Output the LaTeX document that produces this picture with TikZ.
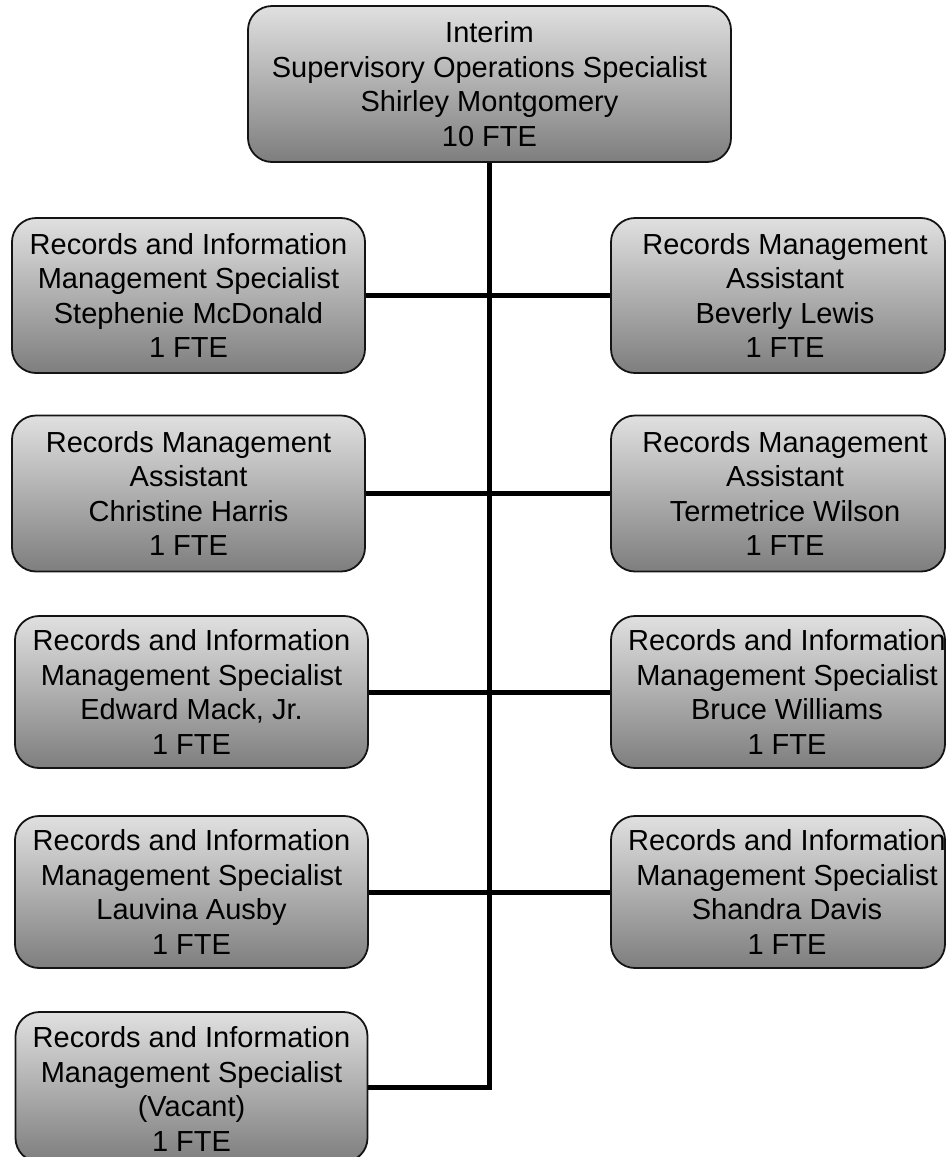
\documentclass[tikz,border=0pt]{standalone}
\usepackage{fontspec}
\setmainfont{Liberation Sans}
\definecolor{boxtop}{RGB}{224,224,224}
\definecolor{boxbot}{RGB}{126,126,126}
\definecolor{boxline}{RGB}{20,20,20}
\begin{document}
\begin{tikzpicture}[x=1pt,y=-1pt,
  orgbox/.style={rectangle, rounded corners=24pt, draw=boxline, line width=1.8pt,
    top color=boxtop, bottom color=boxbot, inner sep=0pt},
  lbl/.style={align=center, inner sep=0pt, font=\fontsize{29}{34.5}\selectfont},
  conn/.style={line width=5pt, black, line join=miter}]
\useasboundingbox (0,0) rectangle (946,1157);

% head
\node[orgbox, minimum width=483pt, minimum height=156pt] (top) at (489.5,84) {};
% left column
\node[orgbox, minimum width=353pt, minimum height=155pt] (l1) at (188.5,295.5) {};
\node[orgbox, minimum width=353pt, minimum height=156pt] (l2) at (188.5,493.5) {};
\node[orgbox, minimum width=353pt, minimum height=152pt] (l3) at (191.5,692) {};
\node[orgbox, minimum width=353pt, minimum height=152pt] (l4) at (191.5,892) {};
\node[orgbox, minimum width=352pt, minimum height=150pt] (l5) at (191.5,1087) {};
% right column
\node[orgbox, minimum width=334pt, minimum height=155pt] (r1) at (778,295.5) {};
\node[orgbox, minimum width=334pt, minimum height=156pt] (r2) at (778,493.5) {};
\node[orgbox, minimum width=334pt, minimum height=152pt] (r3) at (778,692) {};
\node[orgbox, minimum width=334pt, minimum height=152pt] (r4) at (778,892) {};

% trunk and branches
\coordinate (spineEnd) at (top.south |- l5.east);
\draw[conn] (top.south) -- (spineEnd) -- (l5.east);
\draw[conn] (l1.east) -- (r1.west);
\draw[conn] (l2.east) -- (r2.west);
\draw[conn] (l3.east) -- (r3.west);
\draw[conn] (l4.east) -- (r4.west);

% labels
\node[lbl] (topt) at (top.center) {Interim\\Supervisory Operations Specialist\\Shirley Montgomery\\10 FTE};
\node[lbl] (l1t) at (l1.center) {Records and Information\\Management Specialist\\Stephenie McDonald\\1 FTE};
\node[lbl] (l2t) at (l2.center) {Records Management\\Assistant\\Christine Harris\\1 FTE};
\node[lbl] (l3t) at (l3.center) {Records and Information\\Management Specialist\\Edward Mack, Jr.\\1 FTE};
\node[lbl] (l4t) at (l4.center) {Records and Information\\Management Specialist\\Lauvina Ausby\\1 FTE};
\node[lbl] (l5t) at ([yshift=-2pt]l5.center) {Records and Information\\Management Specialist\\(Vacant)\\1 FTE};
\node[lbl] (r1t) at ([xshift=7pt]r1.center) {Records Management\\Assistant\\Beverly Lewis\\1 FTE};
\node[lbl] (r2t) at ([xshift=7pt]r2.center) {Records Management\\Assistant\\Termetrice Wilson\\1 FTE};
\node[lbl] (r3t) at ([xshift=9pt]r3.center) {Records and Information\\Management Specialist\\Bruce Williams\\1 FTE};
\node[lbl] (r4t) at ([xshift=9pt]r4.center) {Records and Information\\Management Specialist\\Shandra Davis\\1 FTE};
\end{tikzpicture}
\end{document}
